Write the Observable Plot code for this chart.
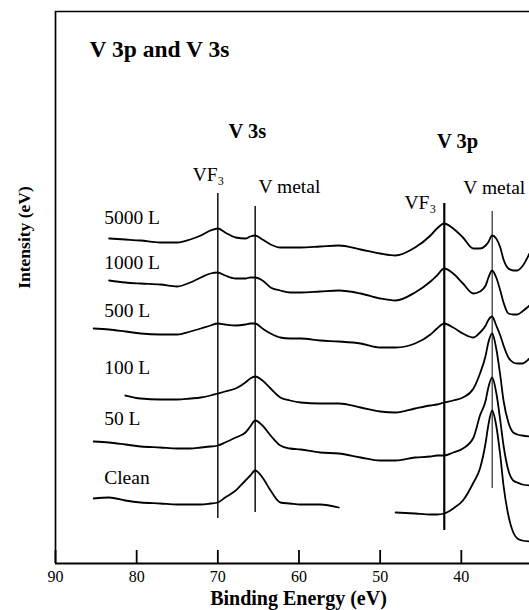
<!DOCTYPE html>
<html><head><meta charset="utf-8">
<script src="https://cdn.jsdelivr.net/npm/d3@7"></script>
<script src="https://cdn.jsdelivr.net/npm/@observablehq/plot@0.6"></script>
<style>html,body{margin:0;padding:0;background:#fff;} #chart svg{display:block}</style>
</head><body><div id="chart"></div>
<script>
// Binding energy grid (eV)
const energy = [85.3,83.4,81.4,79.5,77.1,75.0,73.4,72.1,70.9,70.0,69.1,67.8,66.6,66.0,65.4,64.5,63.5,62.3,61.1,59.8,57.4,55.1,52.4,50.0,48.1,45.7,43.8,43.0,42.1,41.0,39.8,38.5,37.7,37.0,36.7,36.2,35.7,35.2,34.8,34.2,33.6,33.1,32.5,31.6];
const seriesNames = ["5000 L","1000 L","500 L","100 L","50 L","Clean"];
// Intensities (arbitrary units, stacked offsets)
const i5000 = [null,325,324,323,321,321,324,328,333,335,331,326,325,327,328,324,319,316,316,316,317,318,314,310,308,316,328,335,340,335,326,315,315,318,321,328,325,316,304,295,293,293,297,310];
const i1000 = [null,283,281,280,279,277,281,286,290,291,288,285,285,286,286,283,276,273,271,271,272,273,270,265,263,271,282,288,295,290,280,270,272,278,285,293,286,273,261,250,249,249,252,258];
const i500  = [235,234,232,230,229,229,232,235,238,240,239,238,239,240,240,235,230,226,225,225,223,222,220,216,216,220,229,235,240,236,230,226,231,238,243,247,238,228,218,206,201,200,200,205];
const i100  = [null,null,168,165,164,164,165,166,168,170,172,175,181,185,187,183,175,166,163,161,160,160,156,152,151,155,158,159,161,163,166,175,190,208,220,230,215,188,163,141,131,129,128,127];
const i50   = [122,121,119,117,116,115,115,116,117,118,121,126,131,137,143,138,128,118,115,114,111,110,106,103,103,106,107,108,108,111,115,126,148,163,175,186,171,143,118,93,83,81,79,78];
const iClean= [65,66,63,61,60,59,59,59,60,61,66,73,83,88,93,86,73,61,60,59,59,56,null,null,51,50,49,49,50,55,63,81,95,121,137,153,138,108,78,48,31,25,23,22];
const seriesValues = [i5000, i1000, i500, i100, i50, iClean];
// Reference peak positions (eV) and their line extents (intensity units)
const markerEnergy = [70.0, 65.4, 42.1, 36.2];
const markerTop = [370, 357, 360, 352];
const markerBottom = [45, 51, 33, 75];
const markerLabels = ["VF\u2083", "V metal", "VF\u2083", "V metal"];
const sectionLabels = ["V 3s", "V 3p"];
const titleText = "V 3p and V 3s";
const xTicks = [90, 80, 70, 60, 50, 40];
const xLabel = "Binding Energy (eV)";
const yLabel = "Intensity (eV)";

const rows = [];
seriesNames.forEach((s, k) => energy.forEach((e, j) => rows.push({series: s, energy: e, intensity: seriesValues[k][j]})));

const serif = "'Liberation Serif', 'Times New Roman', serif";
const chart = Plot.plot({
  width: 529, height: 610,
  marginLeft: 55, marginRight: 0, marginTop: 11, marginBottom: 47,
  x: {domain: [90, 31.6]},
  y: {domain: [0, 552], axis: null},
  style: {fontFamily: serif, fontSize: "16px", background: "#fff", color: "#000"},
  marks: [
    Plot.ruleX([90], {stroke: "#000", strokeWidth: 1.7}),
    Plot.ruleY([552], {stroke: "#000", strokeWidth: 1.5}),
    Plot.ruleY([0], {stroke: "#000", strokeWidth: 2}),
    Plot.ruleX(xTicks, {y1: 0, y2: 13, stroke: "#000", strokeWidth: 1.8}),
    Plot.axisX({ticks: xTicks, tickSize: 0, tickPadding: 7, label: null, tickFormat: d => d, fill: "#000"}),
    Plot.ruleX(markerEnergy.map((e, i) => i), {
      x: i => markerEnergy[i], y1: i => markerBottom[i], y2: i => markerTop[i],
      stroke: "#000", strokeWidth: i => [1.4, 1.4, 2.2, 1.0][i]
    }),
    Plot.line(rows, {x: "energy", y: "intensity", z: "series", stroke: "#000", strokeWidth: 1.8, strokeLinejoin: "round", curve: "monotone-x"}),
    Plot.text(seriesNames, {
      x: 84, y: (d, i) => [346, 301, 253, 196, 145, 86][i], text: d => d,
      textAnchor: "start", fontSize: 19.5, fill: "#000"
    }),
    Plot.text(markerLabels, {
      x: (d, i) => [73.1, 65.0, 47.0, 39.75][i], y: (d, i) => [389, 377, 361, 376][i], text: d => d,
      textAnchor: "start", fontSize: 19.5, fill: "#000"
    }),
    Plot.text(sectionLabels, {
      x: (d, i) => [68.7, 43.0][i], y: (d, i) => [432, 422][i], text: d => d,
      textAnchor: "start", fontSize: 20.5, fontWeight: "bold", fill: "#000"
    }),
    Plot.text([titleText], {x: 85.8, y: 514, text: d => d, textAnchor: "start", fontSize: 23.5, fontWeight: "bold", fill: "#000"}),
    Plot.text([xLabel], {frameAnchor: "bottom", lineAnchor: "middle", textAnchor: "middle", dx: 6, dy: 35.5, text: d => d, fontSize: 20, fontWeight: "bold", fill: "#000"}),
    Plot.text([yLabel], {frameAnchor: "left", lineAnchor: "middle", textAnchor: "middle", dx: -31, dy: -50, rotate: -90, text: d => d, fontSize: 17.5, fontWeight: "bold", fill: "#000"})
  ]
});
document.getElementById("chart").append(chart);
</script>
</body></html>
